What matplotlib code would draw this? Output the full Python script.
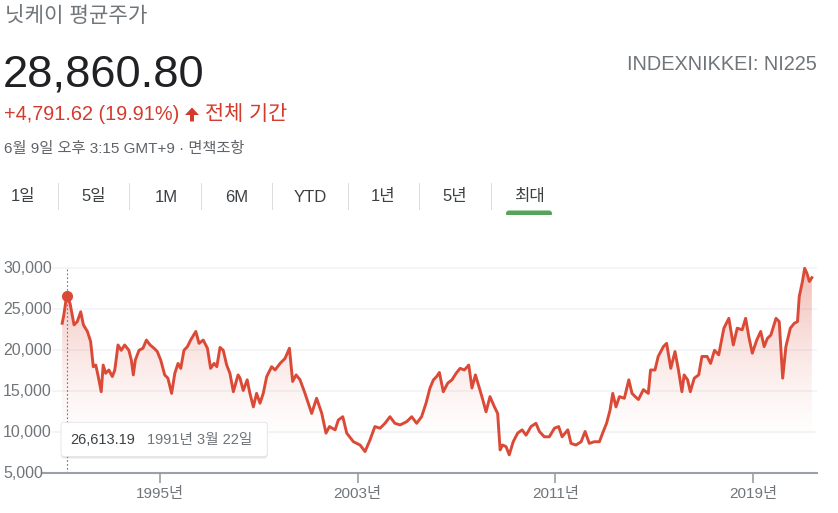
import numpy as np
import matplotlib
matplotlib.use("Agg")
import matplotlib.pyplot as plt
from matplotlib.patches import FancyBboxPatch, FancyArrow, Rectangle
from matplotlib.transforms import Affine2D, blended_transform_factory

plt.rcParams['font.family'] = ['Liberation Sans', 'Noto Sans CJK KR', 'DejaVu Sans']

# ---- data (decimal year, index level) ----
years = [1991.04, 1991.10, 1991.22, 1991.36, 1991.52, 1991.65, 1991.79, 1991.90,
         1992.06, 1992.19, 1992.30, 1992.40, 1992.50, 1992.62, 1992.70, 1992.80, 1992.93,
         1993.07, 1993.17, 1993.30, 1993.43, 1993.57, 1993.74, 1993.84, 1993.92,
         1994.00, 1994.15, 1994.31, 1994.45, 1994.60, 1994.76, 1994.89,
         1995.03, 1995.19, 1995.32, 1995.47, 1995.60, 1995.73, 1995.84, 1995.97,
         1996.11, 1996.24, 1996.45, 1996.58, 1996.75, 1996.92,
         1997.05, 1997.19, 1997.30, 1997.43, 1997.56, 1997.70, 1997.83, 1997.97,
         1998.16, 1998.24, 1998.37, 1998.53, 1998.64, 1998.78, 1998.91,
         1999.05, 1999.18, 1999.32, 1999.52, 1999.66, 1999.86,
         2000.06, 2000.24, 2000.37, 2000.51, 2000.67, 2000.87,
         2001.00, 2001.14, 2001.34, 2001.55, 2001.72, 2001.86,
         2002.09, 2002.22, 2002.40, 2002.56, 2002.83,
         2003.10, 2003.30, 2003.50, 2003.70, 2003.91,
         2004.11, 2004.31, 2004.51, 2004.72, 2004.99,
         2005.19, 2005.39, 2005.59, 2005.77, 2005.93,
         2006.07, 2006.20, 2006.31, 2006.47, 2006.65, 2006.82, 2006.99,
         2007.15, 2007.32, 2007.50, 2007.63, 2007.77, 2007.93,
         2008.07, 2008.20, 2008.36, 2008.54, 2008.67, 2008.77, 2008.87,
         2009.01, 2009.14, 2009.30, 2009.48, 2009.66, 2009.82,
         2010.02, 2010.22, 2010.36, 2010.56, 2010.76, 2010.97,
         2011.14, 2011.28, 2011.51, 2011.64, 2011.84,
         2012.05, 2012.21, 2012.38, 2012.58, 2012.79, 2012.92,
         2013.08, 2013.22, 2013.33, 2013.46, 2013.60, 2013.80, 2013.98,
         2014.11, 2014.24, 2014.37, 2014.57, 2014.77, 2014.86,
         2015.04, 2015.17, 2015.38, 2015.51, 2015.68, 2015.85, 2015.99,
         2016.13, 2016.22, 2016.36, 2016.47, 2016.63, 2016.81, 2016.94,
         2017.15, 2017.29, 2017.45, 2017.62, 2017.83,
         2018.03, 2018.21, 2018.37, 2018.57, 2018.71, 2018.84, 2018.98,
         2019.16, 2019.32, 2019.46, 2019.59, 2019.73, 2019.94,
         2020.07, 2020.21, 2020.34, 2020.52, 2020.68, 2020.81, 2020.88,
         2021.01, 2021.10, 2021.19, 2021.29, 2021.39]
prices = [23300, 24200, 26613, 25700, 23100, 23500, 24700, 23100,
          22300, 21100, 18000, 18200, 16800, 14950, 18200, 17200, 17600,
          16800, 17600, 20650, 20000, 20650, 20000, 18800, 17000,
          18800, 20000, 20250, 21250, 20650, 20250, 19850,
          18800, 17000, 16600, 14750, 17200, 18400, 17800, 20000,
          20450, 21250, 22300, 20850, 21250, 20250,
          17800, 18400, 18000, 20350, 20000, 18200, 17200, 14950,
          17000, 16600, 15100, 16400, 14750, 13100, 14750,
          13550, 14750, 16800, 18000, 17600, 18400,
          19000, 20250, 16200, 17000, 16400, 14750,
          13550, 12300, 14150, 12300, 9900, 10700,
          10300, 11500, 11900, 9900, 8850,
          8450, 7650, 9050, 10700, 10500,
          11100, 11900, 11100, 10900, 11300,
          11900, 11100, 11900, 13550, 15400,
          16400, 16800, 17300, 14950, 16000, 16400, 17200,
          17800, 17600, 18200, 15400, 17000, 15400,
          13950, 12500, 14350, 13100, 12300, 7850, 8450,
          8250, 7250, 8850, 9900, 10300, 9650,
          10700, 11100, 10100, 9450, 9450, 10500,
          10700, 9450, 10300, 8650, 8450,
          8850, 10100, 8650, 8850, 8850, 9900,
          11100, 12700, 14750, 13100, 14350, 14150, 16400,
          14750, 14350, 14000, 15200, 14750, 17600,
          17600, 19250, 20450, 20850, 17800, 19850, 17600,
          14950, 17000, 16400, 14950, 16600, 17000, 19250,
          19250, 18400, 20000, 19450, 22700,
          23900, 20650, 22700, 22500, 23900, 21650, 19650,
          21250, 22300, 20450, 21450, 21850, 23900,
          23500, 16600, 20450, 22700, 23300, 23500, 26550,
          28400, 30000, 29400, 28400, 28860]

y_grid = [5000, 10000, 15000, 20000, 25000, 30000]
y_labels = ['5,000', '10,000', '15,000', '20,000', '25,000', '30,000']
x_ticks = [1995, 2003, 2011, 2019]
x_labels = ['1995년', '2003년', '2011년', '2019년']

hover_year = 1991.22
hover_value = 26613.19
hover_date = '1991년 3월 22일'

title = '닛케이 평균주가'
last_price = '28,860.80'
change_text = '+4,791.62 (19.91%)'
period_text = '전체 기간'
stamp_text = '6월 9일 오후 3:15 GMT+9 · 면책조항'
ticker_text = 'INDEXNIKKEI: NI225'
tabs = ['1일', '5일', '1M', '6M', 'YTD', '1년', '5년', '최대']

RED = '#db4a37'
GREY = '#70757a'
DARK = '#202124'

W, H = 838, 513
fig = plt.figure(figsize=(W / 100, H / 100), dpi=100)
fig.patch.set_facecolor('white')
# pixel coordinates with origin at the top-left corner
PX = Affine2D().scale(1 / W, -1 / H).translate(0, 1) + fig.transFigure

# ---- header ----
fig.text(5, 16, title, transform=PX, fontsize=15.3, color=GREY, va='center')
fig.text(3, 87, last_price, transform=PX, fontsize=32.7, color=DARK, va='baseline')
fig.text(817, 64, ticker_text, transform=PX, fontsize=14.3, color=GREY,
         va='center', ha='right')
fig.text(4, 115, change_text, transform=PX, fontsize=14.3, color='#d33b2c', va='center')
fig.add_artist(FancyArrow(192, 121.5, 0, -14, width=4, head_width=14, head_length=7.5,
                          length_includes_head=True, color='#d33b2c', lw=0, transform=PX))
fig.text(205, 114, period_text, transform=PX, fontsize=15, color='#d33b2c', va='center')
fig.text(4, 149, stamp_text, transform=PX, fontsize=11, color='#5f6368', va='center')

# ---- range tabs ----
tab_x = [23, 94, 166, 237, 310, 383, 455, 529]
sep_x = [58.5, 129.5, 201.5, 272.5, 348.5, 419.5, 491.5]
for tx, lab in zip(tab_x, tabs):
    fig.text(tx, 197, lab, transform=PX, fontsize=12, color='#3c4043',
             ha='center', va='center')
for sx in sep_x:
    fig.add_artist(Rectangle((sx - 0.5, 183), 1, 27, transform=PX,
                             color='#dadce0', lw=0))
fig.add_artist(FancyBboxPatch((506, 210.5), 46, 6, transform=PX,
                              boxstyle='round,pad=0,rounding_size=3',
                              color='#56a35b', lw=0))
# flat bottom for the pill
fig.add_artist(Rectangle((505, 214.5), 48, 4, transform=PX, color='white', lw=0))

# ---- chart ----
ax_left, ax_right, ax_bottom, ax_top = 43, 817.3, 473.3, 263.4
ax = fig.add_axes([ax_left / W, 1 - ax_bottom / H,
                   (ax_right - ax_left) / W, (ax_bottom - ax_top) / H])
x0 = 1995 + (ax_left - 160) / 24.7
x1 = 1995 + (ax_right - 160) / 24.7
ax.set_facecolor('none')

for g in y_grid[1:]:
    ax.axhline(g, xmin=0.013, xmax=1, color='#f1f3f4', lw=1.1, zorder=0)

# gradient fill under the line
poly = ax.fill_between(years, prices, 5000, color='none', lw=0)
levels = np.linspace(30600, 5000, 256)
t = np.clip((levels - 8000) / (30600 - 8000), 0, 1)
rgba = np.zeros((256, 1, 4))
rgba[..., 0] = 219 / 255
rgba[..., 1] = 74 / 255
rgba[..., 2] = 55 / 255
rgba[:, 0, 3] = 0.38 * t ** 1.5
im = ax.imshow(rgba, extent=[years[0], years[-1], 5000, 30600], aspect='auto',
               origin='upper', zorder=1, interpolation='bilinear')
im.set_clip_path(poly.get_paths()[0], transform=ax.transData)
ax.set_xlim(x0, x1)
ax.set_ylim(5000, 30600)

ax.plot(years, prices, color=RED, lw=2.1, zorder=3, solid_joinstyle='round')
ax.axvline(hover_year, ymax=(30000 - 5000) / (30600 - 5000), color=GREY,
           lw=0.8, ls=(0, (1.5, 2)), zorder=2)
ax.plot([hover_year], [hover_value], 'o', color=RED, ms=7, zorder=4)

for s in ['top', 'right', 'left']:
    ax.spines[s].set_visible(False)
ax.spines['bottom'].set_color('#9aa0a6')
ax.spines['bottom'].set_linewidth(1.5)
ax.set_yticks([])
ax.set_xticks(x_ticks)
ax.set_xticklabels(x_labels)
ax.tick_params(axis='x', length=7, width=1.2, color='#9aa0a6', labelcolor=GREY,
               labelsize=11, pad=3)

# y labels, left aligned at the figure edge
ylab_tr = blended_transform_factory(fig.transFigure, ax.transData)
for g, lab in zip(y_grid, y_labels):
    ax.text(3 / W, g, lab, transform=ylab_tr, fontsize=11.5, color=GREY,
            ha='left', va='center', clip_on=False)

# ---- tooltip ----
fig.add_artist(FancyBboxPatch((61, 423.5), 206.5, 35, transform=PX,
                              boxstyle='round,pad=0,rounding_size=3',
                              facecolor='black', alpha=0.10, lw=0, zorder=5))
fig.add_artist(FancyBboxPatch((61, 422.3), 206.3, 34.2, transform=PX,
                              boxstyle='round,pad=0,rounding_size=3',
                              facecolor='white', edgecolor='#e3e4e6', lw=0.6, zorder=6))
fig.text(70.5, 440, f'{hover_value:,.2f}', transform=PX, fontsize=10.5,
         color='#3c4043', va='center', zorder=7)
fig.text(146.5, 440, hover_date, transform=PX, fontsize=10.5,
         color=GREY, va='center', zorder=7)

fig.savefig('out.png', dpi=100)
